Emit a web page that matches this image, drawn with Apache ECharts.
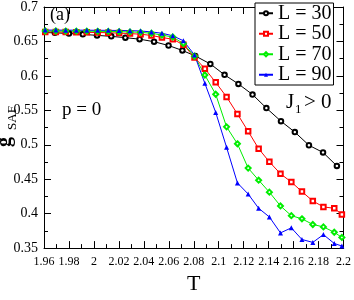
<!DOCTYPE html>
<html><head><meta charset="utf-8">
<script src="https://cdn.jsdelivr.net/npm/echarts@6/dist/echarts.min.js"></script>
<style>html,body{margin:0;padding:0;background:#fff}#c{width:354px;height:300px}</style>
</head><body><div id="c"></div>
<script>
const seriesNames = ['L = 30', 'L = 50', 'L = 70', 'L = 90'];
const xTickLabels = ['1.96', '1.98', '2', '2.02', '2.04', '2.06', '2.08', '2.1', '2.12', '2.14', '2.16', '2.18', '2.2'];
const yTickLabels = ['0.35', '0.4', '0.45', '0.5', '0.55', '0.6', '0.65', '0.7'];

const tempsL30 = [1.9575, 1.9687, 1.9800, 1.9911, 2.0025, 2.0139, 2.0252, 2.0366, 2.0482, 2.0598, 2.0709,
  2.0812, 2.0933, 2.1047, 2.1158, 2.1271, 2.1382, 2.1499, 2.1610, 2.1723, 2.1836, 2.1947];
const gL30 = [0.6630, 0.6625, 0.6615, 0.6603, 0.6588, 0.6574, 0.6555, 0.6533, 0.6496, 0.6441, 0.6369,
  0.6290, 0.6173, 0.6015, 0.5883, 0.5729, 0.5533, 0.5342, 0.5184, 0.4993, 0.4888, 0.4693];

const temps = [1.9610, 1.9695, 1.9774, 1.9859, 1.9943, 2.0030, 2.0115, 2.0202, 2.0289, 2.0374, 2.0461,
  2.0545, 2.0632, 2.0717, 2.0806, 2.0889, 2.0976, 2.1063, 2.1150, 2.1236, 2.1320, 2.1406, 2.1495,
  2.1582, 2.1667, 2.1754, 2.1839, 2.1926, 2.1987];
const gL50 = [0.6638, 0.6637, 0.6636, 0.6634, 0.6632, 0.6630, 0.6626, 0.6621, 0.6614, 0.6605, 0.6587,
  0.6557, 0.6532, 0.6452, 0.6268, 0.6105, 0.5906, 0.5695, 0.5447, 0.5195, 0.4943, 0.4752, 0.4579,
  0.4459, 0.4320, 0.4184, 0.4098, 0.4078, 0.3989];
const gL70 = [0.6652, 0.6652, 0.6651, 0.6650, 0.6649, 0.6647, 0.6645, 0.6642, 0.6638, 0.6632, 0.6619,
  0.6592, 0.6564, 0.6469, 0.6285, 0.6012, 0.5733, 0.5260, 0.5014, 0.4661, 0.4486, 0.4312, 0.4112,
  0.3971, 0.3925, 0.3843, 0.3808, 0.3730, 0.3655];
const gL90 = [0.6665, 0.6665, 0.6664, 0.6664, 0.6663, 0.6662, 0.6661, 0.6659, 0.6657, 0.6652, 0.6638,
  0.6619, 0.6582, 0.6510, 0.6305, 0.5892, 0.5470, 0.4963, 0.4446, 0.4285, 0.4078, 0.3952, 0.3721,
  0.3794, 0.3625, 0.3583, 0.3696, 0.3567, 0.3530];

const FONT = 'Liberation Serif';
const pair = (xs, ys) => xs.map((t, i) => [t, ys[i]]);
const xFmt = v => xTickLabels[Math.round((v - 1.96) / 0.02)] || '';
const yFmt = v => yTickLabels[Math.round((v - 0.35) / 0.05)] || '';

const axisCommon = {
  axisLine: { show: true, onZero: false, lineStyle: { color: '#000', width: 1 } },
  axisTick: { show: true, inside: true, length: 7, lineStyle: { color: '#000', width: 1 } },
  minorTick: { show: true, splitNumber: 2, length: 4, lineStyle: { color: '#000', width: 1 } },
  splitLine: { show: false },
  minorSplitLine: { show: false }
};

const chart = echarts.init(document.getElementById('c'), null, { renderer: 'canvas' });
chart.setOption({
  animation: false,
  backgroundColor: '#fff',
  grid: { left: 44, right: 7.5, top: 5, bottom: 38 },
  xAxis: [
    Object.assign({}, axisCommon, {
      type: 'value', min: 1.96, max: 2.2, interval: 0.02, position: 'bottom',
      axisLabel: { show: true, formatter: xFmt, color: '#000', fontFamily: FONT, fontSize: 12, margin: 8,
        showMinLabel: true, showMaxLabel: true, hideOverlap: false },
      name: 'T', nameLocation: 'middle', nameGap: 23,
      nameTextStyle: { fontFamily: FONT, fontSize: 22, color: '#000' }
    }),
    Object.assign({}, axisCommon, {
      type: 'value', min: 1.96, max: 2.2, interval: 0.02, position: 'top',
      axisLabel: { show: false }
    })
  ],
  yAxis: [
    Object.assign({}, axisCommon, {
      type: 'value', min: 0.35, max: 0.7, interval: 0.05, position: 'left',
      axisLabel: { show: true, formatter: yFmt, color: '#000', fontFamily: FONT, fontSize: 14, margin: 6,
        showMinLabel: true, showMaxLabel: true }
    }),
    Object.assign({}, axisCommon, {
      type: 'value', min: 0.35, max: 0.7, interval: 0.05, position: 'right',
      axisLabel: { show: false }
    })
  ],
  legend: {
    orient: 'vertical', left: 255, top: 3,
    padding: [0, 2, 0, 3], itemGap: 0, itemWidth: 14, itemHeight: 5,
    borderColor: '#000', borderWidth: 1, backgroundColor: '#fff',
    textStyle: { fontFamily: FONT, fontSize: 20, color: '#000', lineHeight: 20.5 },
    data: seriesNames
  },
  series: [
    { name: seriesNames[0], type: 'line', data: pair(tempsL30, gL30), symbol: 'emptyCircle', symbolSize: 4.5,
      color: '#000', lineStyle: { width: 1, color: '#000' }, itemStyle: { color: '#000', borderWidth: 1 } },
    { name: seriesNames[1], type: 'line', data: pair(temps, gL50), symbol: 'emptyRect', symbolSize: 4.5,
      color: '#ff0000', lineStyle: { width: 1, color: '#ff0000' }, itemStyle: { color: '#ff0000', borderWidth: 1 } },
    { name: seriesNames[2], type: 'line', data: pair(temps, gL70), symbol: 'emptyDiamond', symbolSize: 5,
      color: '#00ee00', lineStyle: { width: 1, color: '#00ee00' }, itemStyle: { color: '#00ee00', borderWidth: 1 } },
    { name: seriesNames[3], type: 'line', data: pair(temps, gL90), symbol: 'triangle', symbolSize: 5,
      color: '#0000ff', lineStyle: { width: 1, color: '#0000ff' }, itemStyle: { color: '#0000ff' } }
  ],
  graphic: [
    { type: 'text', left: 50, top: 6, style: { text: '(a)', font: '18px "Liberation Serif"', fill: '#000' } },
    { type: 'text', left: 62, top: 101, style: { text: 'p = 0', font: '19px "Liberation Serif"', fill: '#000' } },
    { type: 'text', left: 286, top: 92, style: { text: 'J', font: '21px "Liberation Serif"', fill: '#000' } },
    { type: 'text', left: 295, top: 103, style: { text: '1', font: '13px "Liberation Serif"', fill: '#000' } },
    { type: 'text', left: 304, top: 92, style: { text: '> 0', font: '21px "Liberation Serif"', fill: '#000' } },
    { type: 'text', x: 5, y: 142, rotation: Math.PI / 2,
      style: { text: 'g', font: 'bold 20px "Liberation Serif"', fill: '#000', align: 'center', verticalAlign: 'middle' } },
    { type: 'text', x: 13, y: 118, rotation: Math.PI / 2,
      style: { text: 'SAF', font: '13px "Liberation Serif"', fill: '#000', align: 'center', verticalAlign: 'middle' } }
  ]
});
</script></body></html>
